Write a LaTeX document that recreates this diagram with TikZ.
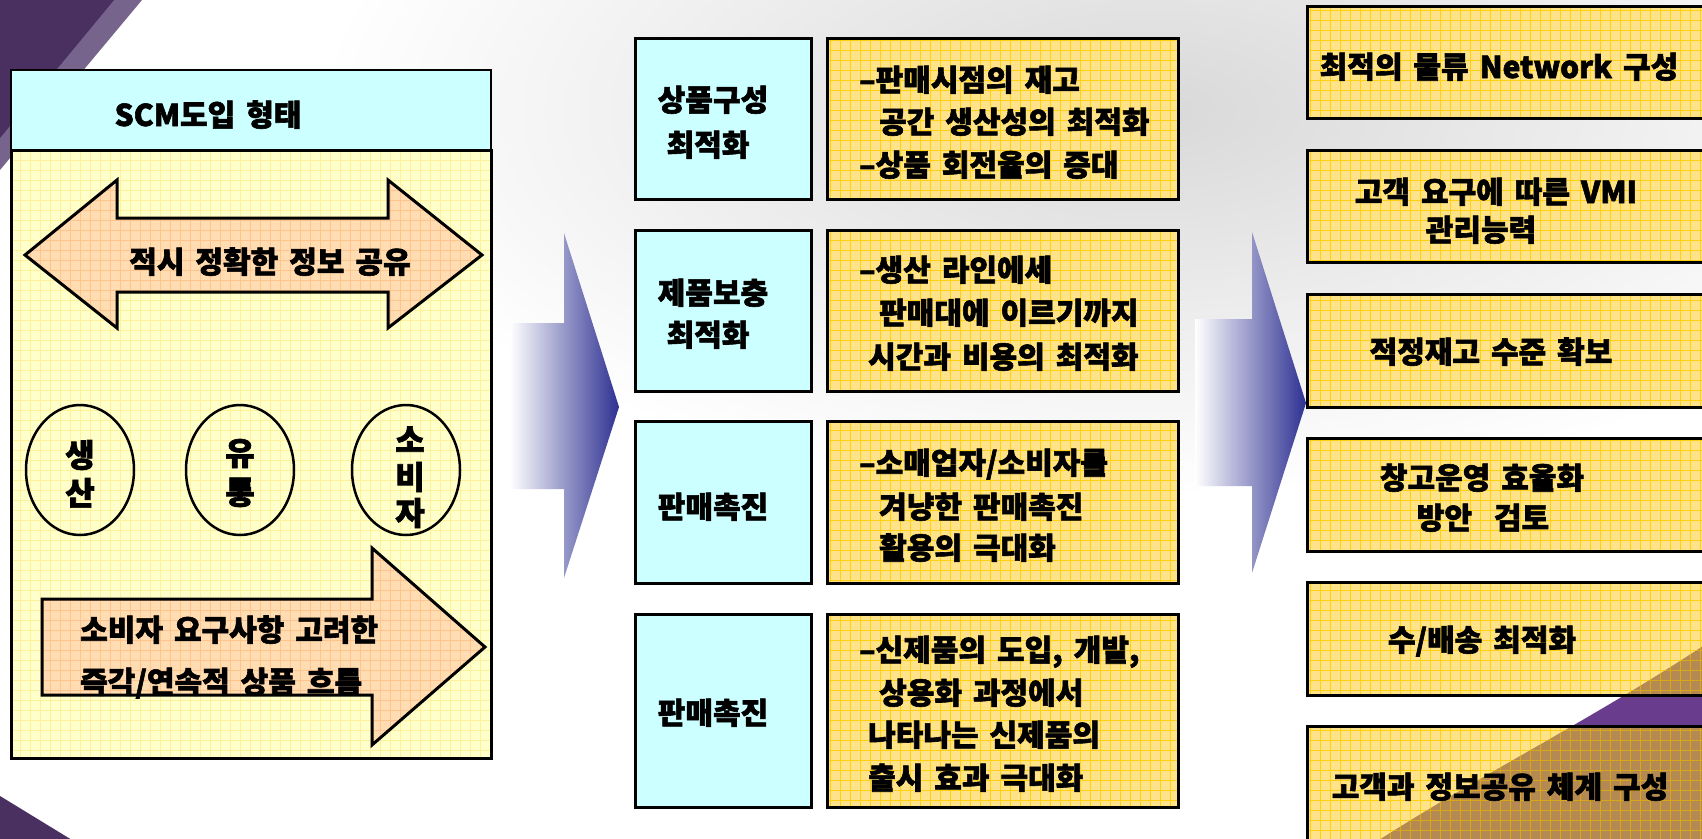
\documentclass[tikz,border=0pt]{standalone}
\usepackage{fontspec}
\setmainfont{Noto Sans CJK KR}[WordSpace=1.6,BoldFeatures={FakeBold=2}]
\usetikzlibrary{fadings,shapes.geometric}
\definecolor{cyanbox}{HTML}{CCFFFF}
\definecolor{ybox}{HTML}{FFE38A}
\definecolor{ygrid}{HTML}{FFCF10}
\definecolor{lpanel}{HTML}{FFFFCC}
\definecolor{lgrid}{HTML}{FFF09A}
\definecolor{peach}{HTML}{FFDCB2}
\definecolor{pgrid}{HTML}{FFC38C}
\definecolor{chev}{HTML}{2E3192}
\definecolor{purpD}{HTML}{4A3060}
\definecolor{purpL}{HTML}{76648C}
\definecolor{purpS}{HTML}{6A3C8E}
\definecolor{brownT}{HTML}{B58A52}
\definecolor{bgrid}{HTML}{D9A81A}
\tikzfading[name=softfade, inner color=transparent!0, outer color=transparent!100]
\newcommand\gbox[6]{%
  \fill[#5] (#1,#2) rectangle (#3,#4);
  \draw[#6, line width=0.8pt, step=10pt] (#1,#4) grid (#3,#2);
  \draw[line width=3pt] (#1,#2) rectangle (#3,#4);}
\newcommand\tbox[4]{%
  \fill[ybox] (#1,#2) rectangle (#3,#4);
  \begin{scope}
    \clip (#1,#2) rectangle (#3,#4);
    \fill[brownT] (1379,840) .. controls (1480,775) and (1600,715) .. (1712,640) -- (1712,840) -- cycle;
  \end{scope}
  \draw[ygrid, line width=0.8pt, step=10pt] (#1,#4) grid (#3,#2);
  \begin{scope}
    \clip (1379,840) .. controls (1480,775) and (1600,715) .. (1712,640) -- (1712,840) -- cycle;
    \draw[bgrid, line width=0.8pt, step=10pt] (#1,#4) grid (#3,#2);
  \end{scope}
  \draw[line width=3pt] (#1,#2) rectangle (#3,#4);}
\newcommand\cbox[4]{%
  \fill[cyanbox] (#1,#2) rectangle (#3,#4);
  \draw[line width=3pt] (#1,#2) rectangle (#3,#4);}
\begin{document}
\begin{tikzpicture}[x=1pt,y=-1pt,
  txt/.style={font=\fontsize{30}{36}\selectfont\bfseries, inner sep=0pt},
  big/.style={font=\fontsize{32}{38}\selectfont\bfseries, inner sep=0pt},
  outline/.style={line width=3pt, line join=miter}]
\useasboundingbox (0,0) rectangle (1702,838);
\fill[white] (0,0) rectangle (1702,838);
% background photo glow
\fill[gray!30, path fading=softfade] (1150,110) ellipse [x radius=820pt, y radius=380pt];
% purple corners
\fill[purpL] (0,0) -- (142,0) -- (0,170) -- cycle;
\fill[purpD] (0,0) -- (114,0) -- (0,138) -- cycle;
\fill[purpD] (0,796) -- (72,840) -- (0,840) -- cycle;
\fill[purpS] (1379,840) .. controls (1480,775) and (1600,715) .. (1712,640) -- (1712,840) -- cycle;

% ---------- left panel ----------
\gbox{11}{150}{491}{758}{lpanel}{lgrid}
\fill[cyanbox] (11,70) rectangle (491,150);
\draw[line width=2.5pt] (11,70) rectangle (491,758);
\draw[line width=2.5pt] (11,150) -- (491,150);
\node[txt, anchor=base] (head) at (208,126) {SCM도입 형태};

% double arrow
\begin{scope}
  \clip (25,255) -- (117,180) -- (117,218) -- (388,218) -- (388,180) -- (482,255) -- (388,328) -- (388,292) -- (117,292) -- (117,328) -- cycle;
  \fill[peach] (25,180) rectangle (482,328);
  \draw[pgrid, line width=0.7pt, step=10pt] (25,328) grid (482,180);
\end{scope}
\draw[outline] (25,255) -- (117,180) -- (117,218) -- (388,218) -- (388,180) -- (482,255) -- (388,328) -- (388,292) -- (117,292) -- (117,328) -- cycle;
\node[txt, anchor=base] (share) at (270,273) {적시 정확한 정보 공유};

% ellipses
\node[draw, ellipse, line width=2.5pt, minimum width=108pt, minimum height=130pt, inner sep=0pt] (e1) at (80,470) {};
\node[draw, ellipse, line width=2.5pt, minimum width=108pt, minimum height=130pt, inner sep=0pt] (e2) at (240,470) {};
\node[draw, ellipse, line width=2.5pt, minimum width=108pt, minimum height=130pt, inner sep=0pt] (e3) at (406,470) {};
\node[big, anchor=base] (e1a) at (80,467) {생};
\node[big, anchor=base] (e1b) at (80,505) {산};
\node[big, anchor=base] (e2a) at (240,465) {유};
\node[big, anchor=base] (e2b) at (240,504) {통};
\node[big, anchor=base] (e3a) at (410,452) {소};
\node[big, anchor=base] (e3b) at (410,489) {비};
\node[big, anchor=base] (e3c) at (410,525) {자};

% single arrow
\begin{scope}
  \clip (42,599) -- (372,599) -- (372,548) -- (485,647) -- (372,745) -- (372,695) -- (42,695) -- cycle;
  \fill[peach] (42,548) rectangle (485,745);
  \draw[pgrid, line width=0.7pt, step=10pt] (42,745) grid (485,548);
\end{scope}
\node[txt, anchor=base west] (flow1) at (80,641) {소비자 요구사항 고려한};
\node[txt, anchor=base west] (flow2) at (80,693) {즉각/연속적 상품 흐름};
\draw[outline] (42,599) -- (372,599) -- (372,548) -- (485,647) -- (372,745) -- (372,695) -- (42,695) -- cycle;

% ---------- chevrons ----------
\shade[left color=white, right color=chev] (510,323) -- (564,323) -- (564,233) -- (619,407) -- (564,578) -- (564,489) -- (510,489) -- cycle;
\shade[left color=white, right color=chev] (1195,319) -- (1252,319) -- (1252,232) -- (1306,403) -- (1252,573) -- (1252,486) -- (1195,486) -- cycle;

% ---------- middle column ----------
\cbox{635}{38}{811}{199}
\cbox{635}{230}{811}{391}
\cbox{635}{421}{811}{583}
\cbox{635}{614}{811}{807}
\gbox{827}{38}{1178}{199}{ybox}{ygrid}
\gbox{827}{230}{1178}{391}{ybox}{ygrid}
\gbox{827}{421}{1178}{583}{ybox}{ygrid}
\gbox{827}{614}{1178}{807}{ybox}{ygrid}

\node[txt, anchor=base] (c1a) at (713,111) {상품구성};
\node[txt, anchor=base] (c1b) at (708,156) {최적화};
\node[txt, anchor=base] (c2a) at (713,304) {제품보충};
\node[txt, anchor=base] (c2b) at (708,346) {최적화};
\node[txt, anchor=base] (c3) at (713,518) {판매촉진};
\node[txt, anchor=base] (c4) at (713,724) {판매촉진};

\node[txt, anchor=base west] (y1a) at (859,91) {–판매시점의 재고};
\node[txt, anchor=base west] (y1b) at (879,133) {공간 생산성의 최적화};
\node[txt, anchor=base west] (y1c) at (859,176) {–상품 회전율의 증대};
\node[txt, anchor=base west] (y2a) at (859,281) {–생산 라인에세};
\node[txt, anchor=base west] (y2b) at (879,324) {판매대에 이르기까지};
\node[txt, anchor=base west] (y2c) at (868,368) {시간과 비용의 최적화};
\node[txt, anchor=base west] (y3a) at (859,474) {–소매업자/소비자를};
\node[txt, anchor=base west] (y3b) at (879,518) {겨냥한 판매촉진};
\node[txt, anchor=base west] (y3c) at (879,559) {활용의 극대화};
\node[txt, anchor=base west] (y4a) at (859,661) {–신제품의 도입, 개발,};
\node[txt, anchor=base west] (y4b) at (879,704) {상용화 과정에서};
\node[txt, anchor=base west] (y4c) at (868,746) {나타나는 신제품의};
\node[txt, anchor=base west] (y4d) at (868,789) {출시 효과 극대화};

% ---------- right column ----------
\gbox{1307}{6}{1712}{118}{ybox}{ygrid}
\gbox{1307}{150}{1712}{262}{ybox}{ygrid}
\gbox{1307}{294}{1712}{407}{ybox}{ygrid}
\gbox{1307}{438}{1712}{551}{ybox}{ygrid}
\tbox{1307}{582}{1712}{695}
\tbox{1307}{726}{1712}{850}

\node[txt, anchor=base] (r1) at (1499,78) {최적의 물류 Network 구성};
\node[txt, anchor=base] (r2a) at (1496,203) {고객 요구에 따른 VMI};
\node[txt, anchor=base] (r2b) at (1481,241) {관리능력};
\node[txt, anchor=base] (r3) at (1491,363) {적정재고 수준 확보};
\node[txt, anchor=base] (r4a) at (1482,489) {창고운영 효율화};
\node[txt, anchor=base] (r4b) at (1483,529) {방안 \ 검토};
\node[txt, anchor=base] (r5) at (1482,651) {수/배송 최적화};
\node[txt, anchor=base] (r6) at (1500,798) {고객과 정보공유 체계 구성};
\end{tikzpicture}
\end{document}
